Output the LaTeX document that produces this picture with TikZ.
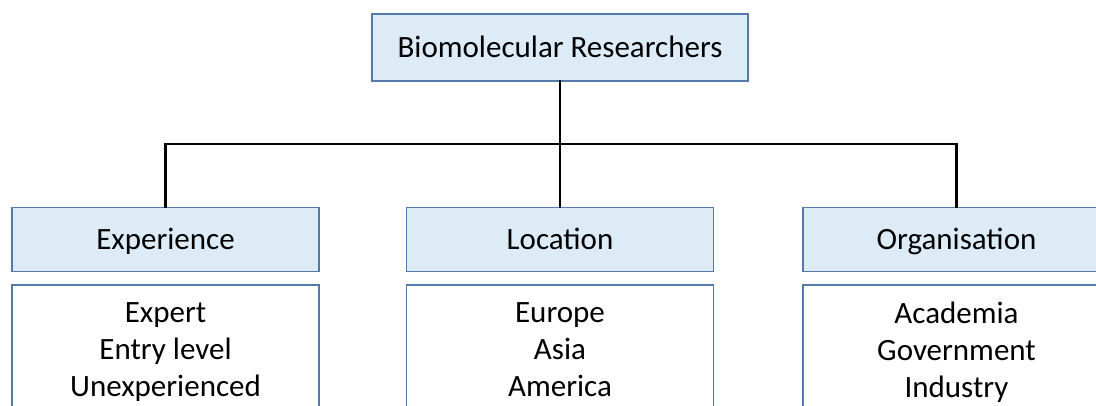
\documentclass[tikz,border=0pt]{standalone}
\usepackage{fontspec}
\setmainfont{Carlito}
\usepackage{tikz}
\definecolor{boxline}{RGB}{84,122,170}
\definecolor{boxfill}{RGB}{221,235,247}
\tikzstyle{root} = [draw=boxline, fill=boxfill, line width=1.2pt, minimum width=376pt, minimum height=67pt, text height=20pt, text depth=0pt, font={\fontsize{31}{37}\selectfont}]
\tikzstyle{topic} = [root, minimum width=307pt, minimum height=64pt]
\tikzstyle{items} = [draw=boxline, fill=white, line width=1.2pt, minimum width=307pt, minimum height=130pt, align=center, text depth=0pt, font={\fontsize{31}{37}\selectfont}]
\tikzstyle{link} = [line width=2.6pt, line cap=rect]

\begin{document}
\begin{tikzpicture}[x=1pt,y=1pt]
    \useasboundingbox (0,0) rectangle (1096,-405);
    \clip (0,0) rectangle (1096,-405);
    \node[root](top) at (560,-47.5){Biomolecular Researchers};
    \node[topic](exp) at (165.5,-239.5){Experience};
    \node[topic](loc) at (560,-239.5){Location};
    \node[topic](org) at (956.5,-239.5){Organisation};
    \node[items](expl) at (165.5,-350){Expert\\Entry level\\Unexperienced};
    \node[items](locl) at (560,-350){Europe\\Asia\\America};
    \node[items](orgl) at (956.5,-350){Academia\\Government\\Industry};
    \coordinate(bar) at (560,-144);
    \draw[link](top.south)--(loc.north);
    \draw[link](exp.north)--(exp.north|-bar)--(org.north|-bar)--(org.north);
\end{tikzpicture}
\end{document}
